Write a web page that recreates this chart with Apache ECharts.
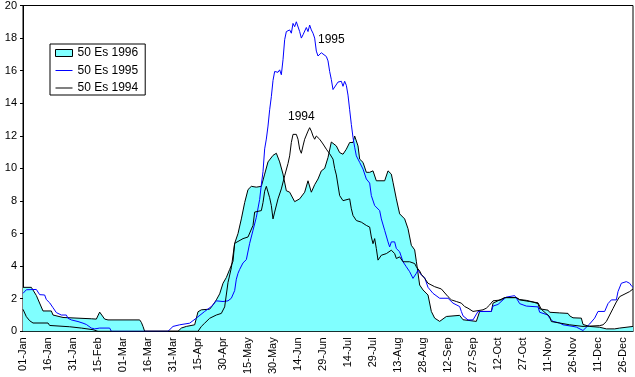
<!DOCTYPE html>
<html>
<head>
<meta charset="utf-8">
<script src="https://cdn.jsdelivr.net/npm/echarts@6/dist/echarts.min.js"></script>
<style>
  html, body { margin: 0; padding: 0; background: #fff; }
  #chart { width: 635px; height: 377px; }
</style>
</head>
<body>
<div id="chart"></div>
<script>
// tick labels every 15 days (1996 is a leap year, 366 days)
const tickLabels = ['01-Jan', '16-Jan', '31-Jan', '15-Feb', '01-Mar', '16-Mar', '31-Mar', '15-Apr',
  '30-Apr', '15-May', '30-May', '14-Jun', '29-Jun', '14-Jul', '29-Jul', '13-Aug', '28-Aug',
  '12-Sep', '27-Sep', '12-Oct', '27-Oct', '11-Nov', '26-Nov', '11-Dec', '26-Dec'];

const seriesNames = ['50 Es 1996', '50 Es 1995', '50 Es 1994'];

// [day of year, value]
const es1996 = [
  [0, 2.7], [5, 2.7], [8, 2.2], [12, 1.25], [17, 1.25], [18, 1.0], [24, 0.85], [41, 0.77], [44, 0.75],
  [46, 1.18], [49, 0.75], [51, 0.7], [70, 0.7], [71, 0.55], [72, 0.3], [73, 0],
  [93, 0], [95, 0.2], [98, 0.3], [103, 0.4], [104, 0.8], [105, 1.2], [107, 1.32], [112, 1.36],
  [114, 1.62], [116, 1.93], [118, 2.3], [120, 2.95], [122, 3.3], [124, 3.8], [126, 4.3], [127, 5.4],
  [129, 6.0], [131, 6.9], [133, 7.9], [135, 8.7], [137, 8.9], [140, 8.85], [143, 8.9], [145, 9.65],
  [147, 10.4], [150, 10.8], [152, 10.93], [154, 10.4], [156, 9.65], [158, 8.63], [160, 8.54],
  [163, 7.96], [166, 8.13], [169, 8.54], [171, 9.24], [173, 8.54], [175, 9.0], [177, 9.35],
  [179, 9.85], [181, 10.0], [183, 10.67], [185, 11.62], [186, 11.68], [188, 11.38], [190, 10.97],
  [192, 10.87], [194, 11.18], [196, 11.59], [198, 11.59], [199, 11.99], [201, 11.38], [202, 10.57],
  [204, 10.37], [206, 9.76], [208, 9.76], [210, 9.85], [212, 9.24], [217, 9.24], [219, 9.85],
  [221, 9.65], [222, 9.15], [224, 8.13], [226, 7.21], [229, 6.9], [231, 6.3], [233, 5.28], [235, 5.0],
  [236, 4.3], [238, 2.84], [240, 2.54], [243, 2.23], [245, 1.22], [247, 0.81], [250, 0.61],
  [254, 0.91], [262, 0.98], [264, 0.71], [272, 0.61], [274, 1.22], [281, 1.22], [282, 1.73],
  [289, 2.07], [296, 2.07], [298, 1.95], [302, 1.9], [306, 1.8], [309, 1.7], [310, 1.38], [315, 1.3],
  [316, 1.17], [317, 1.08], [322, 1.13], [327, 1.1], [328, 0.95], [330, 0.83], [335, 0.81],
  [336, 0.42], [340, 0.3], [346, 0.25], [350, 0.15], [355, 0.15], [358, 0.2], [366, 0.3]
];

const es1995 = [
  [0, 2.33], [2, 2.55], [8, 2.57], [10, 2.25], [11, 2.13], [13, 2.23], [14, 1.95], [16, 1.75],
  [18, 1.45], [20, 1.15], [23, 1.0], [26, 1.0], [27, 0.8], [29, 0.7], [33, 0.6], [36, 0.5],
  [38, 0.42], [41, 0.2], [43, 0.15], [46, 0.2], [52, 0.2], [53, 0],
  [87, 0], [90, 0.3], [94, 0.4], [100, 0.5], [104, 0.81], [109, 1.22], [113, 1.52], [116, 1.87],
  [120, 1.83], [123, 1.87], [125, 2.03], [127, 2.5], [128, 3.2], [129, 3.56], [130, 3.8], [132, 4.2],
  [134, 4.4], [136, 5.4], [138, 6.2], [140, 7.0], [142, 8.1], [143, 9.0], [144, 9.8], [145, 11.2],
  [146, 11.8], [147, 12.6], [148, 13.6], [149, 14.4], [150, 15.4], [151, 15.95], [153, 15.9],
  [154, 16.05], [155, 15.75], [156, 16.67], [157, 17.9], [158, 18.4], [160, 18.5], [161, 18.3],
  [162, 18.9], [163, 18.7], [164, 19.0], [165, 18.95], [166, 18.4], [167, 18.0], [168, 18.2],
  [170, 18.65], [171, 18.4], [172, 18.8], [173, 18.5], [174, 18.3], [175, 18.0], [176, 17.2],
  [177, 16.9], [179, 17.1], [180, 17.15], [182, 16.87], [183, 16.6], [184, 15.95], [185, 15.45],
  [186, 14.84], [187, 14.9], [189, 15.3], [191, 15.35], [192, 15.04], [193, 15.35], [194, 15.1],
  [195, 14.5], [196, 13.6], [197, 12.7], [198, 11.9], [199, 11.3], [200, 10.77], [202, 10.37],
  [204, 9.96], [206, 9.35], [208, 9.1], [209, 8.33], [211, 7.72], [214, 7.41], [215, 6.9],
  [217, 6.2], [219, 5.49], [220, 5.18], [221, 5.49], [223, 5.49], [224, 5.08], [226, 4.88],
  [228, 4.27], [230, 3.96], [232, 3.66], [234, 3.25], [235, 3.25], [236, 3.56], [237, 3.76],
  [239, 3.45], [241, 3.3], [243, 2.7], [246, 2.33], [250, 2.03], [255, 2.03], [258, 1.73],
  [262, 1.52], [263, 1.22], [264, 0.95], [267, 0.7], [270, 0.7], [273, 1.22], [281, 1.22],
  [282, 1.55], [285, 1.65], [288, 1.93], [290, 2.1], [295, 2.19], [296, 2.05], [298, 1.7],
  [302, 1.55], [306, 1.52], [309, 1.5], [310, 1.17], [315, 1.0], [316, 0.8], [318, 0.61],
  [322, 0.51], [324, 0.4], [330, 0.3], [332, 0.26], [336, 0.05], [340, 0.45], [343, 0.81],
  [345, 1.22], [349, 1.22], [351, 1.7], [353, 1.93], [356, 1.93], [357, 2.44], [359, 2.95],
  [362, 3.05], [364, 2.95], [365, 2.8], [366, 2.7]
];

const es1994 = [
  [0, 1.35], [2, 0.9], [4, 0.65], [6, 0.51], [15, 0.51], [16, 0.36], [28, 0.28], [35, 0.2],
  [36, 0.16], [42, 0.1], [45, 0],
  [105, 0], [106, 0.1], [107, 0.3], [109, 0.5], [112, 0.8], [116, 1.0], [119, 1.1], [121, 1.5],
  [123, 3.0], [125, 3.9], [127, 5.4], [132, 5.69], [135, 5.79], [136, 5.69], [138, 6.5], [139, 7.32],
  [143, 7.41], [144, 7.9], [145, 8.6], [146, 8.9], [148, 8.2], [149, 7.72], [150, 6.9], [151, 7.32],
  [153, 8.13], [155, 8.74], [157, 9.55], [159, 10.3], [160, 10.77], [161, 11.59], [162, 12.09],
  [164, 12.09], [165, 11.79], [166, 11.18], [167, 10.93], [168, 11.38], [169, 11.79], [171, 12.29],
  [172, 12.5], [173, 12.29], [174, 11.99], [175, 11.79], [176, 11.99], [178, 11.79], [180, 11.5],
  [181, 11.38], [182, 11.18], [184, 10.9], [186, 10.57], [187, 10.0], [188, 9.6], [190, 8.33],
  [192, 8.02], [196, 8.13], [197, 7.52], [198, 7.11], [200, 6.8], [203, 6.7], [206, 6.5],
  [208, 6.4], [209, 5.79], [210, 5.38], [211, 5.69], [212, 5.08], [213, 4.37], [215, 4.67],
  [218, 4.77], [221, 4.98], [223, 4.77], [224, 4.47], [226, 4.57], [228, 4.27], [232, 4.27],
  [235, 4.16], [236, 3.96], [238, 3.7], [239, 3.5], [241, 3.25], [243, 2.95], [247, 2.74],
  [251, 2.6], [255, 2.13], [257, 1.93], [260, 1.83], [263, 1.73], [265, 1.52], [267, 1.42],
  [270, 1.22], [276, 1.32], [278, 1.42], [280, 1.62], [282, 1.87], [287, 1.93], [289, 2.07],
  [296, 2.07], [298, 1.93], [304, 1.83], [309, 1.75], [311, 1.35], [316, 0.9], [317, 0.6],
  [328, 0.4], [336, 0.3], [346, 0.35], [348, 0.4], [350, 0.6], [352, 1.0], [354, 1.4], [356, 1.8],
  [358, 2.13], [364, 2.44], [366, 2.6]
];

// text annotations: [day, value, text]
const label1995 = [185, 17.9, '1995'];
const label1994 = [167, 13.2, '1994'];

const fontFamily = '"Liberation Sans", Arial, sans-serif';

function annotation(item) {
  return {
    silent: true,
    symbol: 'circle',
    symbolSize: 0,
    label: { show: true, position: 'inside', formatter: item[2], color: '#000', fontSize: 12, fontFamily: fontFamily },
    data: [{ coord: [item[0], item[1]] }]
  };
}

const chart = echarts.init(document.getElementById('chart'), null, { renderer: 'canvas' });

const option = {
  animation: false,
  backgroundColor: '#fff',
  textStyle: { fontFamily: fontFamily },
  grid: {
    left: 23, top: 5, right: 2, bottom: 44,
    show: true, borderColor: '#000', borderWidth: 1, backgroundColor: 'transparent'
  },
  legend: {
    orient: 'vertical',
    left: 50, top: 44,
    padding: [2, 7, 0, 5],
    itemWidth: 17, itemHeight: 7, itemGap: 3.5,
    borderColor: '#000', borderWidth: 1,
    textStyle: { color: '#000', fontSize: 12, lineHeight: 14, fontFamily: fontFamily },
    data: [
      { name: seriesNames[0], icon: 'rect', itemStyle: { color: '#80ffff', borderColor: '#000', borderWidth: 1 } },
      { name: seriesNames[1], icon: 'path://M0,0H17V1H0Z', itemStyle: { color: '#0000ff', borderWidth: 0 } },
      { name: seriesNames[2], icon: 'path://M0,0H17V1H0Z', itemStyle: { color: '#000', borderWidth: 0 } }
    ]
  },
  xAxis: {
    type: 'value',
    min: 0, max: 366, interval: 15,
    axisLine: { show: true, lineStyle: { color: '#000', width: 1 } },
    axisTick: { show: false },
    splitLine: { show: false },
    axisLabel: {
      rotate: 90, margin: 6, color: '#000', fontSize: 11, fontFamily: fontFamily,
      formatter: function (v) {
        const i = v / 15;
        return (v % 15 === 0 && i < tickLabels.length) ? tickLabels[i] : '';
      }
    }
  },
  yAxis: {
    type: 'value',
    min: 0, max: 20, interval: 2,
    axisLine: { show: true, lineStyle: { color: '#000', width: 1 } },
    axisTick: { show: true, length: 3, lineStyle: { color: '#000' } },
    splitLine: { show: false },
    axisLabel: { color: '#000', fontSize: 11, margin: 6, fontFamily: fontFamily }
  },
  series: [
    {
      name: seriesNames[0],
      type: 'line',
      data: es1996,
      symbol: 'none',
      lineStyle: { color: '#000', width: 1 },
      itemStyle: { color: '#80ffff' },
      areaStyle: { color: '#80ffff', opacity: 1 }
    },
    {
      name: seriesNames[1],
      type: 'line',
      data: es1995,
      symbol: 'none',
      lineStyle: { color: '#0000ff', width: 1 },
      itemStyle: { color: '#0000ff' },
      markPoint: annotation(label1995)
    },
    {
      name: seriesNames[2],
      type: 'line',
      data: es1994,
      symbol: 'none',
      lineStyle: { color: '#000', width: 1 },
      itemStyle: { color: '#000' },
      markPoint: annotation(label1994)
    }
  ]
};

chart.setOption(option);
</script>
</body>
</html>
